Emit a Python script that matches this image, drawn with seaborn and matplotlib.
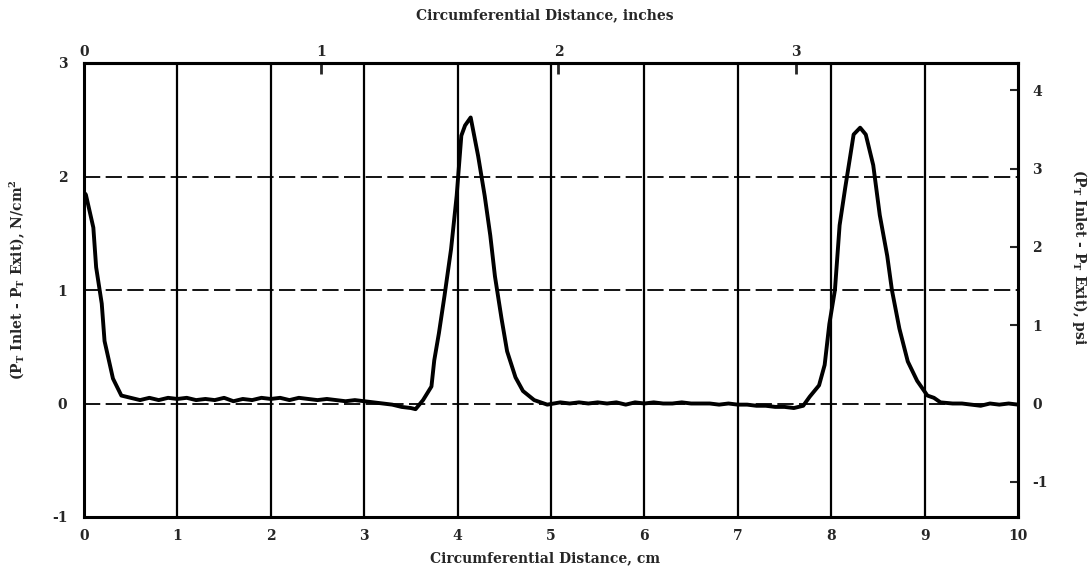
import matplotlib
matplotlib.use("Agg")
import matplotlib.pyplot as plt
import seaborn as sns
import pandas as pd

# ---- data (x in cm, pressure difference in N/cm^2) ----
x_cm = [0.0, 0.02, 0.10, 0.13, 0.19, 0.22, 0.31, 0.40,
        0.5, 0.6, 0.7, 0.8, 0.9, 1.0, 1.1, 1.2, 1.3, 1.4, 1.5, 1.6, 1.7, 1.8, 1.9,
        2.0, 2.1, 2.2, 2.3, 2.4, 2.5, 2.6, 2.7, 2.8, 2.9, 3.0, 3.1, 3.2, 3.3, 3.4,
        3.5, 3.55, 3.63, 3.72, 3.75, 3.80, 3.86, 3.93, 3.99, 4.04, 4.08, 4.14,
        4.22, 4.29, 4.35, 4.40, 4.47, 4.53, 4.62, 4.70, 4.82, 4.96,
        5.1, 5.2, 5.3, 5.4, 5.5, 5.6, 5.7, 5.8, 5.9, 6.0, 6.1, 6.2, 6.3, 6.4,
        6.5, 6.6, 6.7, 6.8, 6.9, 7.0, 7.1, 7.2, 7.3, 7.4, 7.5, 7.6, 7.7,
        7.77, 7.87, 7.93, 7.98, 8.04, 8.09, 8.15, 8.20, 8.24, 8.31, 8.37,
        8.45, 8.52, 8.60, 8.65, 8.73, 8.82, 8.92, 9.03, 9.1, 9.17,
        9.3, 9.4, 9.5, 9.6, 9.7, 9.8, 9.9, 10.0]
dp_ncm2 = [1.86, 1.84, 1.55, 1.20, 0.88, 0.55, 0.22, 0.07,
           0.05, 0.03, 0.05, 0.03, 0.05, 0.04, 0.05, 0.03, 0.04, 0.03, 0.05, 0.02, 0.04, 0.03, 0.05,
           0.04, 0.05, 0.03, 0.05, 0.04, 0.03, 0.04, 0.03, 0.02, 0.03, 0.02, 0.01, 0.00, -0.01, -0.03,
           -0.04, -0.05, 0.03, 0.15, 0.38, 0.62, 0.95, 1.36, 1.83, 2.36, 2.45, 2.52,
           2.18, 1.83, 1.48, 1.12, 0.75, 0.46, 0.23, 0.11, 0.03, -0.01,
           0.01, 0.00, 0.01, 0.00, 0.01, 0.00, 0.01, -0.01, 0.01, 0.00, 0.01, 0.00, 0.00, 0.01,
           0.00, 0.00, 0.00, -0.01, 0.00, -0.01, -0.01, -0.02, -0.02, -0.03, -0.03, -0.04, -0.02,
           0.06, 0.16, 0.34, 0.70, 1.00, 1.57, 1.90, 2.16, 2.37, 2.43, 2.37,
           2.10, 1.66, 1.30, 1.00, 0.66, 0.37, 0.20, 0.07, 0.05, 0.01,
           0.00, 0.00, -0.01, -0.02, 0.00, -0.01, 0.00, -0.01]

x_ticks_cm = [0, 1, 2, 3, 4, 5, 6, 7, 8, 9, 10]
y_ticks_ncm2 = [-1, 0, 1, 2, 3]
top_ticks_in = [0, 1, 2, 3]
right_ticks_psi = [-1, 0, 1, 2, 3, 4]
PSI_PER_NCM2 = 1.4504
CM_PER_IN = 2.54

df = pd.DataFrame({"x": x_cm, "y": dp_ncm2})

sns.set_style("white")
plt.rcParams["font.family"] = ["DejaVu Serif"]
plt.rcParams["font.weight"] = "bold"
plt.rcParams["mathtext.fontset"] = "dejavuserif"
plt.rcParams["axes.unicode_minus"] = False

W, H = 1091, 581
fig = plt.figure(figsize=(W / 100, H / 100), dpi=100)
ax = fig.add_axes([84 / W, 1 - 517 / H, (1018 - 84) / W, (517 - 63) / H])

# grid
for gx in x_ticks_cm[1:-1]:
    ax.axvline(gx, color="black", lw=1.6, zorder=1)
for gy in [0, 1, 2]:
    ax.axhline(gy, color="black", lw=1.3, ls=(0, (9, 3)), zorder=1)

sns.lineplot(data=df, x="x", y="y", ax=ax, color="black", lw=2.8, zorder=3)

ax.set_xlim(0, 10)
ax.set_ylim(-1, 3)
ax.set_xticks(x_ticks_cm)
ax.set_yticks(y_ticks_ncm2)
ax.set_xlabel("")
ax.set_ylabel("")
ax.tick_params(axis="both", length=0, labelsize=10)
ax.tick_params(axis="x", pad=9)
ax.tick_params(axis="y", pad=12)
for lab in ax.get_xticklabels() + ax.get_yticklabels():
    lab.set_fontweight("bold")
for sp in ax.spines.values():
    sp.set_linewidth(2.2)
    sp.set_color("black")

# top axis: inches
top = ax.secondary_xaxis("top", functions=(lambda c: c / CM_PER_IN, lambda i: i * CM_PER_IN))
top.set_xticks(top_ticks_in)
top.tick_params(direction="in", length=8, width=2, labelsize=10, pad=3)
for lab in top.get_xticklabels():
    lab.set_fontweight("bold")
top.spines["top"].set_linewidth(2.2)

# right axis: psi
right = ax.secondary_yaxis("right", functions=(lambda y: y * PSI_PER_NCM2, lambda p: p / PSI_PER_NCM2))
right.set_yticks(right_ticks_psi)
right.tick_params(direction="in", length=6, width=1.5, labelsize=10, pad=10)
for lab in right.get_yticklabels():
    lab.set_fontweight("bold")
right.spines["right"].set_linewidth(2.2)

fs = 10
fig.text(545 / W, 1 - 15 / H, "Circumferential Distance, inches", ha="center", va="center",
         fontsize=fs, fontweight="bold")
fig.text(545 / W, 1 - 558 / H, "Circumferential Distance, cm", ha="center", va="center",
         fontsize=fs, fontweight="bold")
fig.text(17 / W, 1 - 280 / H, r"(P$_\mathbf{T}$ Inlet - P$_\mathbf{T}$ Exit), N/cm$^\mathbf{2}$",
         rotation=90, ha="center", va="center", fontsize=fs, fontweight="bold")
fig.text(1080 / W, 1 - 257 / H, r"(P$_\mathbf{T}$ Inlet - P$_\mathbf{T}$ Exit), psi",
         rotation=270, ha="center", va="center", fontsize=fs, fontweight="bold")

fig.savefig("out.png", dpi=100)
